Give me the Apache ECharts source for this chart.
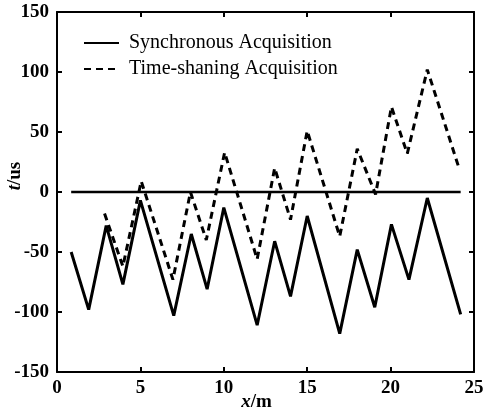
<!DOCTYPE html>
<html>
<head>
<meta charset="utf-8">
<script src="https://cdn.jsdelivr.net/npm/echarts@6/dist/echarts.min.js"></script>
<style>
  html, body { margin: 0; padding: 0; background: #fff; }
  #chart { width: 485px; height: 414px; }
</style>
</head>
<body>
<div id="chart"></div>
<script>
// 同步采集 (solid)
var syncX = [0.85, 1.9, 2.95, 3.95, 5.0, 7.0, 8.05, 9.0, 10.0, 12.0, 13.05, 14.0, 15.0, 16.95, 18.0, 19.05, 20.05, 21.1, 22.2, 24.2];
var syncY = [-50, -98, -28, -77, -7, -103, -35, -81, -13, -111, -41, -87, -20, -118, -48, -96, -27, -73, -5, -102];
// 分时采集 (dashed)
var tsX = [2.85, 3.95, 5.05, 6.95, 8.0, 8.95, 10.05, 12.0, 13.05, 14.0, 15.0, 16.95, 18.0, 19.1, 20.05, 21.0, 22.2, 24.1];
var tsY = [-18, -62, 9, -73, 0, -40, 33, -56, 20, -23, 51, -37, 36, -2, 71, 32, 102, 20];
// zero reference line
var zeroX = [0.85, 24.2];
var zeroY = [0, 0];

var xTicks = [0, 5, 10, 15, 20, 25];
var yTicks = [-150, -100, -50, 0, 50, 100, 150];

function pairs(xs, ys) {
    return xs.map(function (x, i) { return [x, ys[i]]; });
}

var font = 'Liberation Serif';
var myChart = echarts.init(document.getElementById('chart'));

var axisCommon = {
    axisLine: { show: true, onZero: false, lineStyle: { color: '#000', width: 2 } },
    axisTick: { show: true, inside: true, length: 5, lineStyle: { color: '#000', width: 2 } },
    splitLine: { show: false }
};

var options = {
    animation: false,
    backgroundColor: '#fff',
    grid: { left: 57, right: 11, top: 12, bottom: 42, containLabel: false, outerBoundsMode: 'none' },
    legend: {
        orient: 'vertical',
        left: 78,
        top: 28,
        itemWidth: 35,
        itemHeight: 14,
        itemGap: 6,
        data: ['Synchronous Acquisition', 'Time-shaning Acquisition'],
        itemStyle: { color: 'rgba(0,0,0,0)', borderWidth: 0, opacity: 0 },
        textStyle: { fontFamily: font, fontSize: 20, color: '#000', padding: [0, 0, 0, 5] }
    },
    xAxis: [
        Object.assign({}, axisCommon, {
            type: 'value', position: 'bottom',
            min: 0, max: 25, interval: 5,
            name: '{i|x}/m',
            nameLocation: 'middle',
            nameGap: 21,
            nameMoveOverlap: false,
            nameTextStyle: {
                fontFamily: font, fontSize: 19, fontWeight: 'bold', color: '#000',
                padding: [0, 18, 0, 0],
                rich: { i: { fontFamily: font, fontSize: 19, fontWeight: 'bold', fontStyle: 'italic', color: '#000' } }
            },
            axisLabel: { fontFamily: font, fontSize: 19, fontWeight: 'bold', color: '#000', margin: 7,
                formatter: function (v) { return xTicks.indexOf(v) >= 0 ? String(v) : ''; } }
        }),
        Object.assign({}, axisCommon, {
            type: 'value', position: 'top',
            min: 0, max: 25, interval: 5,
            axisLabel: { show: false }
        })
    ],
    yAxis: [
        Object.assign({}, axisCommon, {
            type: 'value', position: 'left',
            min: -150, max: 150, interval: 50,
            name: '{i|t}/us',
            nameLocation: 'middle',
            nameRotate: 90,
            nameGap: 32,
            nameMoveOverlap: false,
            nameTextStyle: {
                fontFamily: font, fontSize: 19, fontWeight: 'bold', color: '#000',
                padding: [0, 0, 0, 32],
                rich: { i: { fontFamily: font, fontSize: 19, fontWeight: 'bold', fontStyle: 'italic', color: '#000' } }
            },
            axisLabel: { fontFamily: font, fontSize: 19, fontWeight: 'bold', color: '#000', margin: 8,
                formatter: function (v) { return yTicks.indexOf(v) >= 0 ? String(v) : ''; } }
        }),
        Object.assign({}, axisCommon, {
            type: 'value', position: 'right',
            min: -150, max: 150, interval: 50,
            axisLabel: { show: false }
        })
    ],
    series: [
        {
            name: 'Synchronous Acquisition',
            type: 'line',
            data: pairs(syncX, syncY),
            symbol: 'none',
            lineStyle: { color: '#000', width: 3, type: 'solid' },
            itemStyle: { color: '#000' }
        },
        {
            name: 'Time-shaning Acquisition',
            type: 'line',
            data: pairs(tsX, tsY),
            symbol: 'none',
            lineStyle: { color: '#000', width: 3, type: [7, 5] },
            itemStyle: { color: '#000' }
        },
        {
            name: 'zero',
            type: 'line',
            data: pairs(zeroX, zeroY),
            symbol: 'none',
            lineStyle: { color: '#000', width: 2.5 },
            itemStyle: { color: '#000' }
        }
    ]
};
myChart.setOption(options);
window.addEventListener('resize', function () { myChart.resize(); });
</script>
</body>
</html>
